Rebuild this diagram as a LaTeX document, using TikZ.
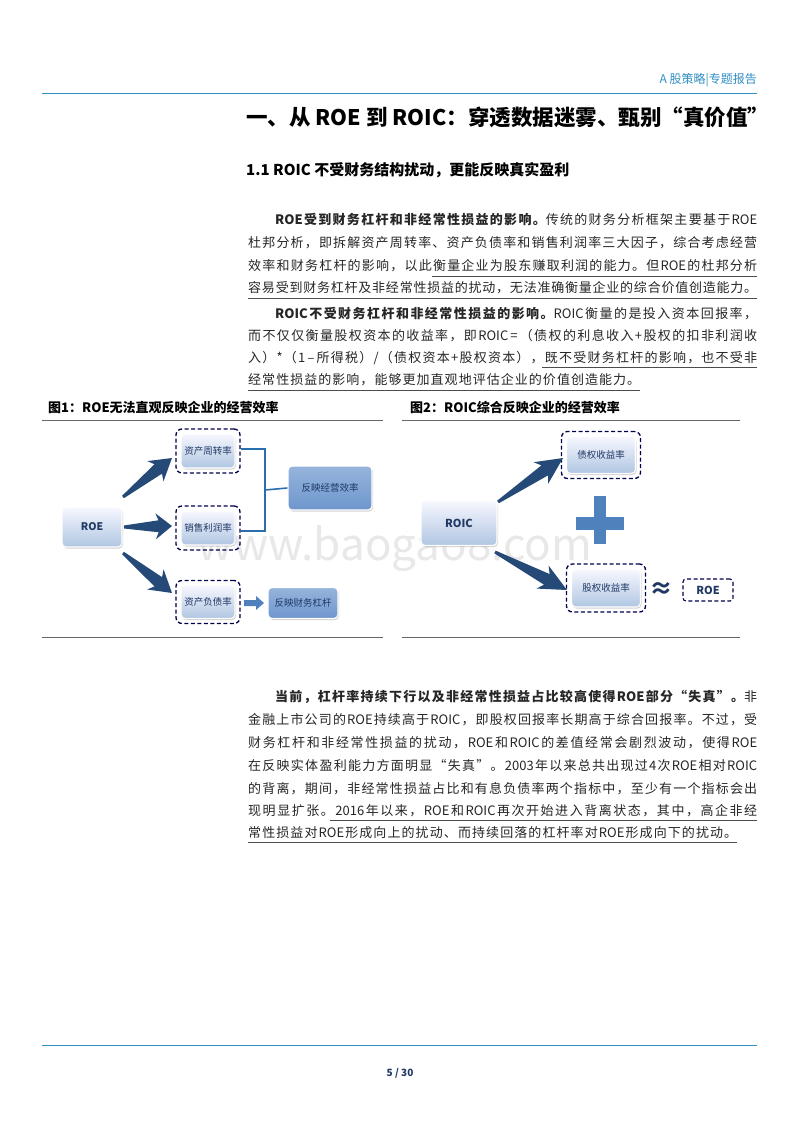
\documentclass[tikz,border=0pt]{standalone}
\usepackage{fontspec}
\setmainfont{Noto Sans CJK SC}
\usetikzlibrary{calc,shadows}
\XeTeXinterchartokenstate=1
\newcount\cc
\cc="4E00
\loop \XeTeXcharclass\cc=1 \advance\cc by 1 \ifnum\cc<"A000 \repeat
\cc="3000
\loop \XeTeXcharclass\cc=1 \advance\cc by 1 \ifnum\cc<"3020 \repeat
\cc="FF00
\loop \XeTeXcharclass\cc=1 \advance\cc by 1 \ifnum\cc<"FF20 \repeat
\XeTeXcharclass"201C=1 \XeTeXcharclass"201D=1
\newcommand\cjkg{\hskip0pt plus 1fil\relax}
\XeTeXinterchartoks 0 1 = {\cjkg}
\XeTeXinterchartoks 1 0 = {\cjkg}
\XeTeXinterchartoks 1 1 = {\cjkg}
\definecolor{hdblue}{HTML}{2F8FC4}
\definecolor{navy}{HTML}{1F3864}
\definecolor{arrblue}{HTML}{264A78}
\definecolor{brk}{HTML}{2A6FAD}
\definecolor{plusc}{HTML}{4F81BD}
\newcommand\jline[1]{\hbox to 509pt{#1}}
\newcommand\jlinei[1]{\hbox to 482pt{#1}}
\newcommand\taparrow[2]{%
  \fill[arrblue] ($(#1)!1.5pt!90:(#2)$) -- ($(#1)!0.72!(#2)!6pt!90:(#2)$) -- ($(#1)!0.66!(#2)!13pt!90:(#2)$) -- (#2)
   -- ($(#1)!0.66!(#2)!13pt!-90:(#2)$) -- ($(#1)!0.72!(#2)!6pt!-90:(#2)$) -- ($(#1)!1.5pt!-90:(#2)$) -- cycle;}
\begin{document}
\begin{tikzpicture}[x=1pt,y=-1pt,
  body/.style={anchor=west,inner sep=0pt,font=\fontsize{13}{15}\selectfont,text=black!85},
  bx/.style={rounded corners=4pt,draw=white,line width=1.2pt,top color=blue!3,bottom color={rgb,255:red,176;green,198;blue,226},drop shadow={shadow xshift=1pt,shadow yshift=-1.5pt,opacity=0.35},font=\fontsize{9.5}{11}\selectfont,text=navy,inner sep=0pt},
  dbox/.style={rounded corners=6pt,draw=black!70!blue,dashed,dash pattern=on 4pt off 2.5pt,line width=1.3pt},
  dk/.style={bx,top color={rgb,255:red,150;green,180;blue,220},bottom color={rgb,255:red,110;green,150;blue,205}},
  figcap/.style={anchor=west,inner sep=0pt,font=\bfseries\fontsize{13}{15}\selectfont},
  rulel/.style={black!60,line width=0.8pt}]
\useasboundingbox (0,0) rectangle (800,1132);
\fill[white] (0,0) rectangle (800,1132);
% header
\node[anchor=east,inner sep=0pt,text=hdblue,font=\fontsize{12}{14}\selectfont] (hdr) at (757,80) {A 股策略|专题报告};
\draw[hdblue,line width=1pt] (42,93) -- (757,93);
\node[anchor=west,inner sep=0pt,font=\bfseries\fontsize{21.5}{24}\selectfont] (title) at (246,117) {一、从 ROE 到 ROIC：穿透数据迷雾、甄别“真价值”};
\node[anchor=west,inner sep=0pt,font=\bfseries\fontsize{15}{17}\selectfont] (sub) at (246,170) {1.1 ROIC 不受财务结构扰动，更能反映真实盈利};
% para 1
\node[body] (p1a) at (275,220) {\jlinei{\textbf{ROE受到财务杠杆和非经常性损益的影响。}传统的财务分析框架主要基于ROE}};
\node[body] (p1b) at (248,243) {\jline{杜邦分析，即拆解资产周转率、资产负债率和销售利润率三大因子，综合考虑经营}};
\node[body] (p1c) at (248,266) {\jline{效率和财务杠杆的影响，以此衡量企业为股东赚取利润的能力。但ROE的杜邦分析}};
\node[body] (p1d) at (248,288) {\jline{容易受到财务杠杆及非经常性损益的扰动，无法准确衡量企业的综合价值创造能力。}};
\draw[black!70,line width=0.8pt] (432,276) -- (757,276) (248,298) -- (757,298);
% para 2
\node[body] (p2a) at (275,314) {\jlinei{\textbf{ROIC不受财务杠杆和非经常性损益的影响。}ROIC衡量的是投入资本回报率，}};
\node[body] (p2b) at (248,336) {\jline{而不仅仅衡量股权资本的收益率，即ROIC\,=\,（债权的利息收入+股权的扣非利润收}};
\node[body] (p2c) at (248,358) {\jline{入）*（1\,–\,所得税）/（债权资本+股权资本），既不受财务杠杆的影响，也不受非}};
\node[body] (p2d) at (248,380) {\hbox to 392pt{经常性损益的影响，能够更加直观地评估企业的价值创造能力。}};
\draw[black!70,line width=0.8pt] (542,367) -- (757,367) (248,390) -- (640,390);
% captions
\node[figcap] (c1) at (48,408) {图1：ROE无法直观反映企业的经营效率};
\node[figcap] (c2) at (410,408) {图2：ROIC综合反映企业的经营效率};
\draw[rulel] (42,420) -- (383,420) (402,420) -- (740,420);
\draw[rulel] (42,637) -- (383,637) (402,637) -- (740,637);
% watermark
\node[text=black!9,font=\fontsize{44}{48}\selectfont,inner sep=0pt] (wm) at (395,548) {www.baogao8.com};
% figure 1
\node[bx,minimum width=60pt,minimum height=40pt,font=\bfseries\fontsize{10.5}{12}\selectfont] (roe) at (92,527) {ROE};
\node[dbox,minimum width=64pt,minimum height=44pt] (d1) at (208,451) {};
\node[bx,minimum width=54pt,minimum height=34pt] (b1) at (208,451) {资产周转率};
\node[dbox,minimum width=64pt,minimum height=44pt] (d2) at (208,528) {};
\node[bx,minimum width=54pt,minimum height=34pt] (b2) at (208,528) {销售利润率};
\node[dbox,minimum width=64pt,minimum height=43pt] (d3) at (208,602) {};
\node[bx,minimum width=54pt,minimum height=33pt] (b3) at (208,602) {资产负债率};
\node[dk,minimum width=84pt,minimum height=44pt] (e1) at (330,488) {反映经营效率};
\node[dk,minimum width=70pt,minimum height=31pt] (e2) at (303,603) {反映财务杠杆};
\coordinate (a1s) at (123,497); \coordinate (a1t) at (172,458);
\coordinate (a2s) at (124,527); \coordinate (a2t) at (172,526);
\coordinate (a3s) at (123,553); \coordinate (a3t) at (172,593);
\taparrow{a1s}{a1t}
\taparrow{a2s}{a2t}
\taparrow{a3s}{a3t}
\draw[brk,line width=1.6pt] (d1.east |- 0,449) -| (265,531) -- (d2.east |- 0,531);
\draw[brk,line width=1.6pt] (265,490) -- (e1.west);
\fill[plusc] (244,600) -- (256,600) -- (256,596) -- (264,603) -- (256,610) -- (256,606) -- (244,606) -- cycle;
% figure 2
\node[bx,minimum width=76pt,minimum height=45pt,font=\bfseries\fontsize{11}{13}\selectfont] (roic) at (459,523) {ROIC};
\node[dbox,minimum width=79pt,minimum height=47pt] (f1) at (601,455) {};
\node[bx,minimum width=69pt,minimum height=37pt] (g1) at (601,455) {债权收益率};
\node[dbox,minimum width=79pt,minimum height=48pt] (f2) at (606,588) {};
\node[bx,minimum width=69pt,minimum height=38pt] (g2) at (606,588) {股权收益率};
\coordinate (r1s) at (498,502); \coordinate (r1t) at (563,458);
\coordinate (r2s) at (495,552); \coordinate (r2t) at (567,590);
\taparrow{r1s}{r1t}
\taparrow{r2s}{r2t}
\fill[plusc] (576,517) rectangle (624,530);
\fill[plusc] (594,496) rectangle (606,544);
\node[font=\bfseries\fontsize{24}{26}\selectfont,text=navy,inner sep=0pt] (approx) at (661,590) {≈};
\node[dbox,rounded corners=3pt,line width=1.1pt,minimum width=50pt,minimum height=22pt,font=\bfseries\fontsize{11}{13}\selectfont,text=navy,inner sep=0pt] (roe2) at (708,590) {ROE};
% para 3
\node[body] (p3a) at (275,697) {\jlinei{\textbf{当前，杠杆率持续下行以及非经常性损益占比较高使得ROE部分“失真”。}非}};
\node[body] (p3b) at (248,720) {\jline{金融上市公司的ROE持续高于ROIC，即股权回报率长期高于综合回报率。不过，受}};
\node[body] (p3c) at (248,743) {\jline{财务杠杆和非经常性损益的扰动，ROE和ROIC的差值经常会剧烈波动，使得ROE}};
\node[body] (p3d) at (248,766) {\jline{在反映实体盈利能力方面明显“失真”。2003年以来总共出现过4次ROE相对ROIC}};
\node[body] (p3e) at (248,789) {\jline{的背离，期间，非经常性损益占比和有息负债率两个指标中，至少有一个指标会出}};
\node[body] (p3f) at (248,811) {\jline{现明显扩张。2016年以来，ROE和ROIC再次开始进入背离状态，其中，高企非经}};
\node[body] (p3g) at (248,833) {\hbox to 489pt{常性损益对ROE形成向上的扰动、而持续回落的杠杆率对ROE形成向下的扰动。}};
\draw[black!70,line width=0.8pt] (330,820) -- (757,820) (248,842) -- (737,842);
% footer
\draw[hdblue,line width=1pt] (42,1045) -- (757,1045);
\node[text=navy,font=\bfseries\fontsize{10}{12}\selectfont,inner sep=0pt] (pg) at (400,1073) {5 / 30};
\end{tikzpicture}
\end{document}
